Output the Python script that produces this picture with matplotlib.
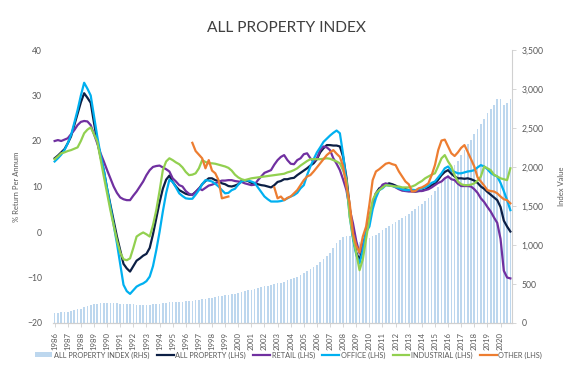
import numpy as np
import matplotlib
matplotlib.use("Agg")
import matplotlib.pyplot as plt
from matplotlib.patches import Patch
from matplotlib.lines import Line2D

plt.rcParams['font.family'] = ['Lato', 'DejaVu Sans']

# quarterly data, 1986 Q1 .. 2020 Q4
years = list(range(1986, 2021))
nan = np.nan

index_value = [
    128, 132, 136, 140,  145, 155, 165, 175,  185, 200, 215, 230,  240, 250, 255, 258,
    262, 262, 260, 255,  250, 245, 243, 240,  238, 235, 233, 232,  232, 235, 238, 242,
    248, 255, 260, 265,  268, 270, 272, 275,  278, 282, 286, 290,  296, 302, 310, 318,
    325, 333, 340, 348,  355, 362, 370, 378,  388, 398, 408, 418,  428, 438, 448, 458,
    468, 478, 488, 498,  508, 518, 530, 545,  560, 578, 596, 615,  640, 665, 690, 715,
    745, 780, 820, 860,  900, 960, 1020, 1070,  1100, 1110, 1110, 1100,  1060, 1040, 1050, 1070,
    1090, 1110, 1130, 1160,  1190, 1220, 1250, 1275,  1300, 1320, 1345, 1375,  1400, 1430, 1460, 1495,
    1530, 1565, 1600, 1640,  1690, 1740, 1790, 1840,  1900, 1960, 2020, 2080,  2150, 2220, 2290, 2350,
    2420, 2490, 2550, 2610,  2690, 2750, 2800, 2870,  2870, 2800, 2820, 2870,
]

all_property = [
    16.2, 16.8, 17.5, 18.2,  19.5, 21.0, 23.5, 26.0,  28.5, 30.5, 29.5, 28.4,  24.0, 20.0, 16.5, 13.5,
    9.5, 6.0, 2.5, -1.0,  -4.0, -7.0, -8.0, -8.7,  -7.5, -6.3, -5.8, -5.2,  -4.8, -3.5, -0.5, 3.0,
    6.5, 9.5, 11.5, 12.4,  11.0, 10.0, 9.2, 8.8,  8.4, 8.2, 8.2, 8.8,  9.5, 10.5, 11.2, 11.8,
    11.8, 11.4, 11.2, 10.7,  10.5, 10.1, 10.0, 10.2,  10.5, 11.2, 11.4, 11.2,  10.8, 10.7, 10.5, 10.3,
    10.2, 10.0, 9.8, 10.3,  11.0, 11.2, 11.6, 11.6,  11.8, 11.9, 12.5, 13.0,  13.5, 14.0, 14.6, 15.1,
    16.0, 17.5, 18.4, 19.1,  19.1, 19.0, 19.0, 18.8,  16.5, 12.0, 5.5, -1.0,  -4.5, -6.2, -3.5, 0.0,
    3.0, 6.0, 8.5, 9.6,  10.0, 10.4, 10.7, 10.5,  10.2, 9.8, 9.2, 9.4,  9.2, 9.0, 8.9, 9.0,
    9.1, 9.3, 9.8, 10.3,  10.7, 11.5, 12.5, 13.2,  13.6, 12.8, 12.2, 11.8,  11.8, 11.7, 11.8, 11.6,
    11.3, 10.8, 10.0, 9.5,  8.8, 8.2, 7.6, 7.0,  5.5, 2.5, 1.2, 0.1,
]

retail = [
    20.0, 20.2, 20.0, 20.3,  20.6, 21.5, 22.4, 23.5,  24.2, 24.4, 24.3, 23.5,  21.5, 19.5, 17.3, 15.5,
    13.6, 11.8, 10.0, 8.6,  7.6, 7.2, 7.0, 7.0,  8.0, 8.9, 10.0, 11.1,  12.5, 13.6, 14.3, 14.5,
    14.6, 14.2, 13.8, 13.3,  11.8, 11.1, 10.3, 10.0,  9.0, 8.4, 8.1, 8.8,  9.6, 9.2, 9.7, 10.2,
    10.4, 10.7, 11.0, 11.3,  11.3, 11.4, 11.4, 11.2,  11.1, 11.0, 10.7, 10.5,  10.3, 10.4, 11.4, 12.2,
    13.0, 13.3, 13.6, 14.8,  15.8, 16.5, 16.9, 15.8,  15.0, 14.9, 15.8, 16.2,  17.1, 17.3, 16.2, 15.5,
    16.2, 18.0, 18.8, 18.6,  18.0, 16.2, 15.0, 13.6,  11.5, 9.2, 5.0, 1.9,  -2.0, -4.7, -3.0, -0.3,
    3.0, 6.3, 8.5, 9.2,  10.4, 10.7, 10.3, 10.2,  9.8, 9.4, 9.1, 9.0,  8.9, 8.9, 8.9, 9.0,
    9.0, 9.2, 9.4, 9.8,  10.3, 10.8, 11.1, 11.8,  12.2, 11.6, 11.4, 10.6,  10.1, 10.1, 10.1, 10.0,
    9.4, 8.6, 7.4, 6.6,  5.5, 4.5, 3.2, 2.0,  -1.5, -8.5, -10.0, -10.2,
]

office = [
    15.5, 16.2, 17.0, 18.0,  19.5, 21.3, 24.0, 26.8,  30.0, 32.8, 31.5, 30.0,  25.5, 21.0, 17.0, 13.6,
    9.5, 5.6, 1.5, -2.5,  -7.0, -11.6, -13.0, -13.6,  -12.8, -12.0, -11.6, -11.3,  -10.8, -9.8, -7.5, -4.0,
    0.0, 4.5, 8.5, 11.5,  11.0, 9.8, 8.5, 7.9,  7.4, 7.3, 7.3, 8.2,  9.2, 10.5, 11.4, 11.3,
    11.1, 10.6, 10.0, 9.2,  8.5, 8.6, 9.2, 9.5,  10.4, 11.1, 11.4, 11.3,  11.1, 10.8, 9.8, 8.8,
    7.8, 7.2, 6.7, 6.7,  6.7, 6.8, 7.0, 7.4,  7.8, 8.1, 8.6, 9.6,  10.3, 12.5, 14.4, 16.0,
    17.5, 18.6, 19.8, 20.5,  21.2, 21.8, 22.3, 21.7,  17.0, 11.0, 3.4, -1.5,  -5.0, -6.9, -4.0, 0.0,
    1.2, 5.0, 7.5, 9.2,  9.6, 10.3, 10.2, 10.1,  9.9, 9.6, 9.4, 9.2,  9.2, 9.3, 9.2, 9.4,
    9.6, 9.8, 10.2, 10.8,  11.1, 12.0, 12.9, 14.0,  14.4, 13.5, 13.2, 12.9,  12.9, 13.1, 13.3, 13.4,
    13.6, 14.2, 14.7, 14.4,  13.8, 13.0, 12.5, 12.2,  10.8, 9.0, 7.0, 4.8,
]

industrial = [
    16.0, 16.6, 17.3, 17.5,  17.8, 18.0, 18.3, 18.6,  20.0, 21.7, 22.5, 23.0,  21.5, 19.9, 16.0, 12.2,
    8.5, 4.8, 1.5, -1.8,  -4.5, -6.0, -6.2, -5.8,  -3.5, -1.0, -0.5, -0.1,  -0.5, -1.0, 1.5, 4.8,
    9.0, 13.6, 15.5, 16.2,  15.8, 15.3, 14.9, 14.2,  13.2, 12.5, 12.6, 12.9,  14.0, 15.8, 15.4, 15.1,
    15.1, 15.0, 14.8, 14.6,  14.4, 14.1, 13.5, 12.6,  12.0, 11.6, 11.4, 11.6,  11.8, 11.9, 12.0, 12.1,
    12.2, 12.3, 12.4, 12.5,  12.6, 12.7, 12.8, 13.1,  13.3, 13.6, 14.0, 14.6,  15.1, 15.6, 16.0, 16.0,
    16.0, 16.0, 16.1, 16.2,  16.1, 15.8, 15.5, 15.1,  13.5, 11.4, 3.4, -1.0,  -4.7, -8.4, -6.0, -1.5,
    3.0, 7.0, 8.5, 9.2,  9.8, 10.3, 10.2, 10.1,  10.0, 10.0, 9.8, 9.8,  9.8, 10.0, 10.3, 10.8,
    11.2, 11.8, 12.2, 12.6,  12.9, 14.5, 16.2, 16.9,  15.5, 14.4, 12.5, 11.1,  10.5, 10.3, 10.3, 10.4,
    10.7, 11.3, 12.2, 14.4,  14.0, 13.6, 12.6, 12.2,  11.8, 11.6, 11.4, 14.0,
]

other = [
    nan, nan, nan, nan,  nan, nan, nan, nan,  nan, nan, nan, nan,  nan, nan, nan, nan,
    nan, nan, nan, nan,  nan, nan, nan, nan,  nan, nan, nan, nan,  nan, nan, nan, nan,
    nan, nan, nan, nan,  nan, nan, nan, nan,  nan, nan, 19.6, 17.8,  17.0, 16.2, 14.0, 15.8,
    13.5, 12.9, 11.4, 7.4,  7.6, 7.8, nan, nan,  nan, nan, nan, nan,  nan, nan, nan, nan,
    nan, nan, nan, 9.8,  7.4, 7.8, 7.0, 7.5,  7.8, 8.5, 9.2, 10.3,  11.4, 12.2, 12.5, 13.3,
    14.2, 15.1, 16.0, 16.9,  17.5, 18.0, 17.2, 16.5,  14.4, 10.0, 6.3, -0.3,  -3.0, -4.5, -1.0, 1.2,
    6.0, 11.4, 13.3, 13.8,  14.4, 15.0, 15.2, 14.9,  14.7, 13.3, 12.2, 11.1,  10.5, 8.9, 9.0, 9.6,
    9.8, 10.2, 10.7, 12.5,  14.7, 18.0, 20.1, 20.3,  18.8, 17.3, 16.7, 17.5,  18.5, 19.1, 17.6, 16.0,
    14.4, 12.0, 11.1, 10.2,  9.2, 9.0, 8.9, 8.5,  7.8, 7.2, 7.0, 6.3,
]

gray = '#595959'
x = np.arange(len(index_value))

fig = plt.figure(figsize=(5.72, 3.69), dpi=100)
ax = fig.add_axes([53/572, 1-323/369, (512-53)/572, (323-50)/369])
ax2 = ax.twinx()

ax2.bar(x, index_value, width=0.5, color='#bdd7ee', zorder=1)
ax2.set_ylim(0, 3500)
ax2.set_yticks(range(0, 3501, 500))
ax2.set_yticklabels(['{:,}'.format(v) for v in range(0, 3501, 500)])
ax2.set_ylabel('Index Value', color=gray, fontsize=5.5)
ax2.yaxis.set_label_coords(1.1, 0.5)

lines = [
    (all_property, '#0c1f45', 'ALL PROPERTY (LHS)'),
    (retail, '#7030a0', 'RETAIL (LHS)'),
    (office, '#00b0f0', 'OFFICE (LHS)'),
    (industrial, '#92d050', 'INDUSTRIAL (LHS)'),
    (other, '#ed7d31', 'OTHER (LHS)'),
]
for vals, col, lab in lines:
    ax.plot(x, vals, color=col, lw=1.6, solid_joinstyle='round')

ax.set_zorder(ax2.get_zorder() + 1)
ax.patch.set_visible(False)

ax.set_ylim(-20, 40)
ax.set_yticks(range(-20, 41, 10))
ax.set_xlim(-0.5, len(x) - 0.5)
ax.set_xticks(x[::4])
ax.set_xticklabels([str(y) for y in years], rotation=90)
ax.set_ylabel('% Return Per Annum', color=gray, fontsize=5.5)
ax.yaxis.set_label_coords(-0.072, 0.5)

for a in (ax, ax2):
    for s in ('top', 'left'):
        a.spines[s].set_visible(False)
    a.spines['right'].set_visible(a is ax2)
    a.spines['right'].set_color('#d0d0d0')
    a.spines['bottom'].set_color('#d0d0d0')
    a.tick_params(colors=gray, labelsize=6.2, length=3, width=0.6)
ax.tick_params(axis='y', length=0, pad=8)
ax.tick_params(axis='x', labelsize=5.6, color='#d0d0d0')
ax2.tick_params(axis='y', color='#d0d0d0', labelsize=6.2, pad=4)

fig.text(0.5, 0.925, 'ALL PROPERTY INDEX', ha='center', va='center',
         fontsize=11.2, color='#404040')

handles = [Patch(facecolor='#bdd7ee', edgecolor='none', label='ALL PROPERTY INDEX (RHS)')]
for vals, col, lab in lines:
    handles.append(Line2D([], [], color=col, lw=1.6, label=lab))
fig.legend(handles=handles, loc='center', bbox_to_anchor=(0.505, 0.038), ncol=6,
           frameon=False, fontsize=5.3, labelcolor=gray, handlelength=2.3,
           handleheight=0.7, handletextpad=0.2, columnspacing=1.0)

fig.savefig('out.png', dpi=100)
